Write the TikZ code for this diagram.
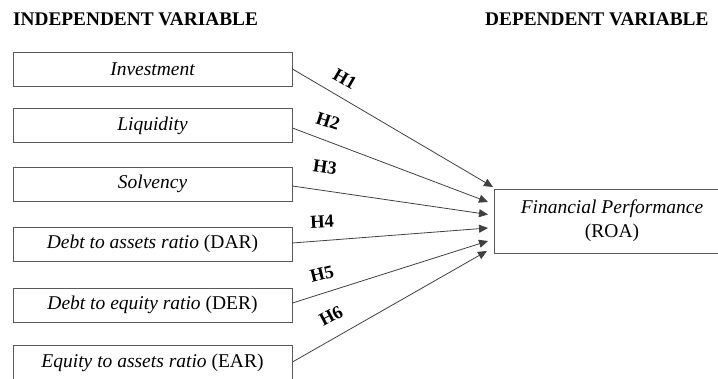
\documentclass[tikz,border=0pt]{standalone}
\usepackage{fontspec}
\setmainfont{Liberation Serif}
\usetikzlibrary{calc,arrows.meta}
\tikzset{
  varbox/.style={draw=black!65, line width=0.9pt, minimum width=279pt, minimum height=34pt, inner sep=0pt,
    font=\fontsize{19.5}{23}\selectfont},
  depbox/.style={draw=black!65, line width=0.9pt, minimum width=236pt, minimum height=64pt, inner sep=0pt,
    align=center, font=\fontsize{19.5}{24}\selectfont},
  header/.style={font=\bfseries\fontsize{19.3}{22}\selectfont, inner sep=0pt, anchor=west},
  hyp/.style={font=\bfseries\fontsize{18.5}{20}\selectfont, inner sep=0pt},
  link/.style={draw=black!75, line width=0.8pt, -{Triangle[length=9pt,width=8pt]}}
}
\begin{document}
\begin{tikzpicture}[x=1pt,y=-1pt]
\useasboundingbox (0,0) rectangle (718,379);
\node[header] (ivh) at (13,19) {INDEPENDENT VARIABLE};
\node[header] (dvh) at (485,19) {DEPENDENT VARIABLE};

\node[varbox] (b1) at (152.5,69) {\itshape Investment};
\node[varbox] (b2) at (152.5,125.5) {\itshape Liquidity};
\node[varbox] (b3) at (152.5,184) {\itshape Solvency};
\node[varbox] (b4) at (152.5,244) {\textit{Debt to assets ratio} (DAR)};
\node[varbox] (b5) at (152.5,305) {\textit{Debt to equity ratio} (DER)};
\node[varbox] (b6) at (152.5,362.5) {\textit{Equity to assets ratio} (EAR)};

\node[depbox] (dv) at (612,221) {\textit{Financial Performance}\\(ROA)};

\coordinate (t1) at (493,187);
\coordinate (t2) at (488,202);
\coordinate (t3) at (488,214.5);
\coordinate (t4) at (488,228);
\coordinate (t5) at (488,241);
\coordinate (t6) at (487,251);

\draw[link] (b1.east) -- (t1);
\draw[link] ($(b2.east)+(0,2.5)$) -- (t2);
\draw[link] ($(b3.east)+(0,2)$) -- (t3);
\draw[link] ($(b4.east)+(0,-1)$) -- (t4);
\draw[link] ($(b5.east)+(0,-2)$) -- (t5);
\draw[link] ($(b6.east)+(0,-0.5)$) -- (t6);

\node[hyp, rotate=-30] (h1) at (345,79) {H1};
\node[hyp, rotate=-18] (h2) at (328,121) {H2};
\node[hyp, rotate=-8] (h3) at (325,167) {H3};
\node[hyp, rotate=3] (h4) at (322,222) {H4};
\node[hyp, rotate=14] (h5) at (322,274) {H5};
\node[hyp, rotate=28] (h6) at (331,316) {H6};
\end{tikzpicture}
\end{document}
